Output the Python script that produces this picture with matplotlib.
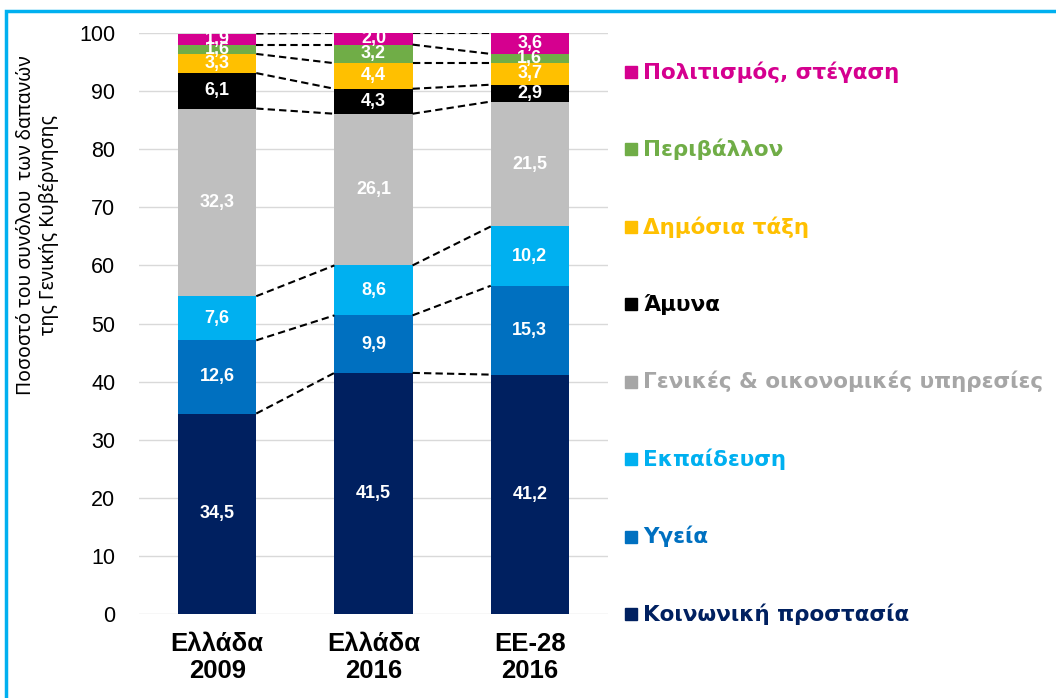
import numpy as np
import matplotlib.pyplot as plt
from matplotlib.patches import Rectangle

# categories, bottom of the stack first
categories = ['Κοινωνική προστασία', 'Υγεία', 'Εκπαίδευση',
              'Γενικές & οικονομικές υπηρεσίες', 'Άμυνα', 'Δημόσια τάξη',
              'Περιβάλλον', 'Πολιτισμός, στέγαση']
colors = ['#002060', '#0070C0', '#00B0F0', '#BFBFBF', '#000000', '#FFC000',
          '#70AD47', '#D5008F']
text_colors = ['#002060', '#0070C0', '#00B0F0', '#A6A6A6', '#000000', '#FFC000',
               '#70AD47', '#D5008F']

groups = ['Ελλάδα\n2009', 'Ελλάδα\n2016', 'ΕΕ-28\n2016']
greece_2009 = [34.5, 12.6, 7.6, 32.3, 6.1, 3.3, 1.6, 1.9]
greece_2016 = [41.5, 9.9, 8.6, 26.1, 4.3, 4.4, 3.2, 2.0]
eu28_2016 = [41.2, 15.3, 10.2, 21.5, 2.9, 3.7, 1.6, 3.6]

data = np.array([greece_2009, greece_2016, eu28_2016])
cum = np.cumsum(data, axis=1)
bottoms = cum - data

W, H = 1056, 698
fig = plt.figure(figsize=(W / 100, H / 100), dpi=100)
ax = fig.add_axes([139 / W, 1 - 614 / H, 469 / W, 581 / H])

x = np.arange(len(groups))
bw = 0.5
for k, cat in enumerate(categories):
    ax.bar(x, data[:, k], bottom=bottoms[:, k], width=bw, color=colors[k], zorder=2)
    for i in range(len(groups)):
        ax.text(x[i], bottoms[i, k] + data[i, k] / 2, f'{data[i, k]:.1f}'.replace('.', ','),
                ha='center', va='center', color='white', fontsize=13,
                fontweight='bold', family='Liberation Sans', zorder=4)

# dashed connectors between neighbouring stacks
for i in range(len(groups) - 1):
    for k in range(len(categories)):
        ax.plot([x[i] + bw / 2, x[i + 1] - bw / 2], [cum[i, k], cum[i + 1, k]],
                ls=(0, (3.5, 2)), color='black', lw=1.5, zorder=3)

ax.set_xlim(-0.5, 2.5)
ax.set_ylim(0, 100)
ax.set_yticks(np.arange(0, 101, 10))
ax.set_xticks(x)
ax.set_xticklabels(groups, fontsize=18.5, fontweight='bold', family='Liberation Sans',
                   linespacing=1.15)
for lab in ax.get_yticklabels():
    lab.set_family('Liberation Sans')
ax.tick_params(axis='y', length=0, pad=17, labelsize=15.5)
ax.tick_params(axis='x', length=0, pad=13)
for s in ax.spines.values():
    s.set_visible(False)
ax.yaxis.grid(True, color='#D9D9D9', lw=1)
ax.set_axisbelow(True)

ax.set_ylabel('Ποσοστό του συνόλου  των δαπανών\nτης Γενικής Κυβέρνησης',
              fontsize=14, family='Noto Sans', linespacing=1.25)
ax.yaxis.set_label_coords(-0.17, 0.67)

# legend, top entry first
ys = np.linspace(72, 614, len(categories))
for j, k in enumerate(range(len(categories) - 1, -1, -1)):
    yc = 1 - ys[j] / H
    fig.patches.append(Rectangle((625 / W, yc - 6 / H), 12 / W, 12 / H,
                                 transform=fig.transFigure, color=colors[k] if k != 3 else '#A6A6A6'))
    fig.text(643 / W, yc, categories[k], color=text_colors[k], fontsize=15.5,
             fontweight='bold', va='center', ha='left', family='DejaVu Sans')

# blue frame
fig.patches.append(Rectangle((6 / W, -0.05), 1.2, 1 - 11 / H + 0.05, fill=False,
                             ec='#00B0F0', lw=2.5, transform=fig.transFigure))

fig.savefig('out.png', dpi=100)
